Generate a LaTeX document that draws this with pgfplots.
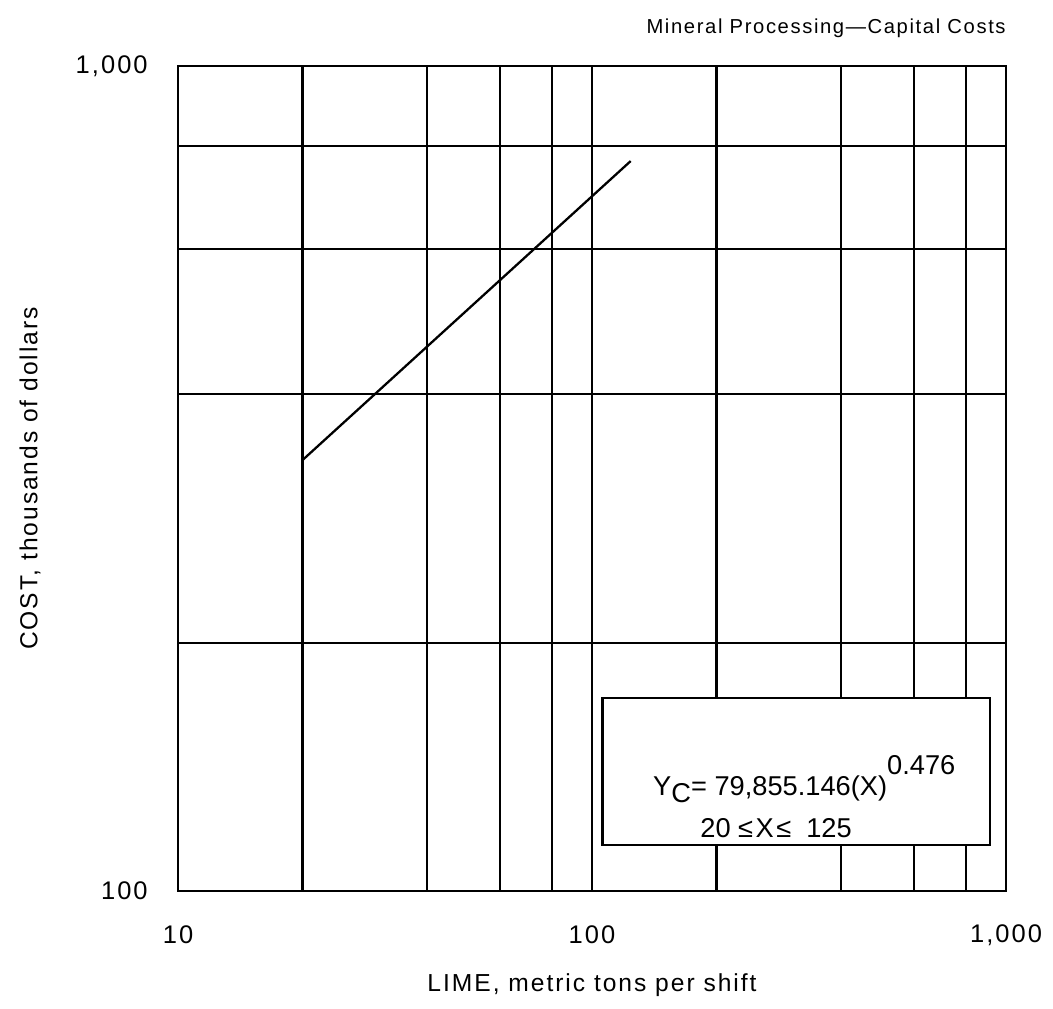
\documentclass[border=0pt]{standalone}
\usepackage{fontspec}
\setmainfont{Liberation Sans}[LetterSpace=8]
\newfontfamily\boxfont{Liberation Sans}
\usepackage{pgfplots}
\pgfplotsset{compat=1.18}
\begin{document}
\begin{tikzpicture}[x=1mm,y=1mm]
\useasboundingbox (-35.6,-23.4) rectangle (175,178.2);
\begin{axis}[
  at={(0,0)}, anchor=south west,
  scale only axis, width=165.6mm, height=165mm,
  xmode=log, ymode=log,
  xmin=10, xmax=1000, ymin=100, ymax=1000,
  xtick={10,100,1000}, xticklabels={10,100,{1,000}},
  ytick={100,1000}, yticklabels={100,{1,000}},
  minor xtick={20,40,60,80,200,400,600,800},
  minor ytick={200,400,600,800},
  grid=both,
  major grid style={black, line width=1.3pt},
  minor grid style={black, line width=1.3pt},
  axis line style={black, line width=1.5pt},
  major tick length=0pt, minor tick length=0pt,
  tick label style={font=\fontsize{14.5}{16}\selectfont, inner sep=0pt},
  xticklabel style={anchor=center, yshift=-8.8mm},
  yticklabel style={anchor=east, xshift=-6mm},
  xlabel={LIME, metric tons per shift},
  ylabel={COST, thousands of dollars},
  label style={font=\fontsize{14}{16}\selectfont},
  xlabel style={at={(axis description cs:0.5,-0.114)}, anchor=center},
  ylabel style={at={(axis description cs:-0.1787,0.5)}, anchor=center},
  clip=false,
]
\addplot[black, line width=1.3pt] coordinates {(20,333) (124,767)};
\draw[black, line width=1.3pt, fill=white] (axis cs:106,113.7) rectangle (axis cs:914,171.5);
\node[font=\boxfont\fontsize{15.5}{17}\selectfont, anchor=base west, inner sep=0pt] at (axis cs:140.3,130.6)
  {Y\raisebox{-1.4mm}{C}= 79,855.146(X)\raisebox{4.2mm}{0.476}};
\node[font=\boxfont\fontsize{15.5}{17}\selectfont, anchor=base west, inner sep=0pt] at (axis cs:182.4,116.2)
  {20\hspace{1.5mm}≤\hspace{0.5mm}X\hspace{0.5mm}≤\hspace{3mm}125};
\node[font=\fontsize{11.5}{14}\selectfont, anchor=east, inner sep=0pt] at (axis description cs:1,1.046)
  {Mineral Processing—Capital Costs};
\end{axis}
\end{tikzpicture}
\end{document}
